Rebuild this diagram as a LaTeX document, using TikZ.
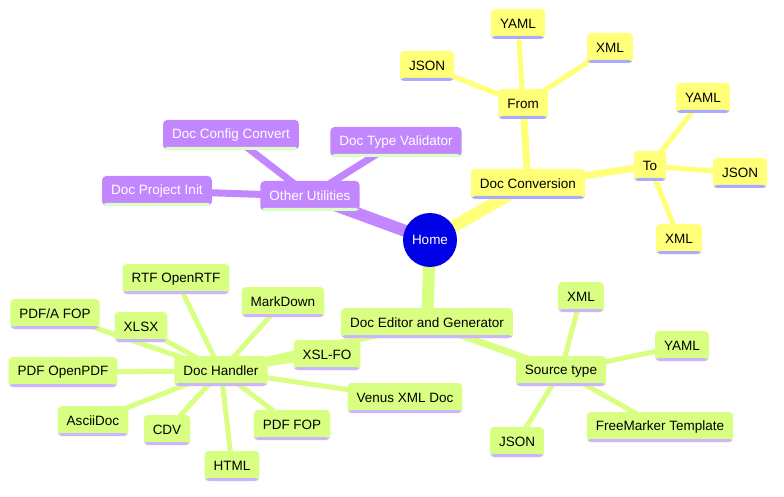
\documentclass[tikz,border=0pt]{standalone}
\usepackage{fontspec}
\setmainfont{Liberation Sans}
\usetikzlibrary{backgrounds}

\definecolor{convfill}{HTML}{FFFF78}
\definecolor{convline}{HTML}{AAAAFF}
\definecolor{editfill}{HTML}{D9FF82}
\definecolor{editline}{HTML}{CCB4FF}
\definecolor{utilfill}{HTML}{C287FF}
\definecolor{utilline}{HTML}{DCFFC8}
\definecolor{homefill}{HTML}{0000E6}

\begin{document}
\begin{tikzpicture}[x=1pt, y=-1pt, font=\fontsize{13.5}{16}\selectfont,
  box/.style={rounded corners=4pt, inner xsep=9pt, inner ysep=0pt, minimum height=30pt,
    path picture={\fill[#1] ([yshift=3pt]path picture bounding box.south west)
      rectangle (path picture bounding box.south east);}},
  conv/.style={box=convline, fill=convfill, text=black},
  edit/.style={box=editline, fill=editfill, text=black},
  util/.style={box=utilline, fill=utilfill, text=white},
  trunk/.style={line width=12pt},
  branch/.style={line width=7pt},
  twig/.style={line width=5pt}]
  \useasboundingbox (0,0) rectangle (784,497);

  % Root
  \node[circle, fill=homefill, text=white, minimum size=54pt, inner sep=0pt] (home) at (430,240) {Home};

  % Doc Conversion branch
  \node[conv] (conv) at (528,184) {Doc Conversion};
  \node[conv] (from) at (523,104) {From};
  \node[conv] (fromjson) at (427,66) {JSON};
  \node[conv] (fromyaml) at (518,24) {YAML};
  \node[conv] (fromxml) at (610,48) {XML};
  \node[conv] (to) at (650,166) {To};
  \node[conv] (toyaml) at (703,98) {YAML};
  \node[conv] (tojson) at (740,173) {JSON};
  \node[conv] (toxml) at (679,239) {XML};

  % Other Utilities branch
  \node[util] (utils) at (310,196) {Other Utilities};
  \node[util] (cfgconv) at (231,135) {Doc Config Convert};
  \node[util] (typeval) at (396,142) {Doc Type Validator};
  \node[util] (projinit) at (157,191) {Doc Project Init};

  % Doc Editor and Generator branch
  \node[edit] (editor) at (427,323) {Doc Editor and Generator};
  \node[edit] (source) at (561,371) {Source type};
  \node[edit] (srcxml) at (581,297) {XML};
  \node[edit] (srcyaml) at (682,346) {YAML};
  \node[edit] (srcftl) at (660,427) {FreeMarker Template};
  \node[edit] (srcjson) at (517,442) {JSON};
  \node[edit] (handler) at (221,371) {Doc Handler};
  \node[edit] (rtf) at (176,279) {RTF OpenRTF};
  \node[edit] (markdown) at (283,302) {MarkDown};
  \node[edit] (pdfa) at (55,314) {PDF/A FOP};
  \node[edit] (xlsx) at (141,327) {XLSX};
  \node[edit] (xslfo) at (327,355) {XSL-FO};
  \node[edit] (openpdf) at (63,372) {PDF OpenPDF};
  \node[edit] (venus) at (405,398) {Venus XML Doc};
  \node[edit] (ascii) at (93,421) {AsciiDoc};
  \node[edit] (cdv) at (167,430) {CDV};
  \node[edit] (pdffop) at (292,425) {PDF FOP};
  \node[edit] (html) at (232,466) {HTML};

  % Edges behind the boxes
  \begin{scope}[on background layer]
    \draw[trunk, convfill] (home.center) -- (conv.center);
    \draw[trunk, utilfill] (home.center) -- (utils.center);
    \draw[trunk, editfill] (home.center) -- (editor.center);

    \draw[branch, convfill] (conv.center) -- (from.center);
    \draw[branch, convfill] (conv.center) -- (to.center);
    \foreach \leaf in {fromjson, fromyaml, fromxml}
      \draw[twig, convfill] (from.center) -- (\leaf.center);
    \foreach \leaf in {toyaml, tojson, toxml}
      \draw[twig, convfill] (to.center) -- (\leaf.center);

    \foreach \leaf in {cfgconv, typeval, projinit}
      \draw[branch, utilfill] (utils.center) -- (\leaf.center);

    \draw[branch, editfill] (editor.center) -- (source.center);
    \draw[branch, editfill] (editor.center) -- (handler.center);
    \foreach \leaf in {srcxml, srcyaml, srcftl, srcjson}
      \draw[twig, editfill] (source.center) -- (\leaf.center);
    \foreach \leaf in {rtf, markdown, pdfa, xlsx, xslfo, openpdf, venus, ascii, cdv, pdffop, html}
      \draw[twig, editfill] (handler.center) -- (\leaf.center);
  \end{scope}
\end{tikzpicture}
\end{document}
